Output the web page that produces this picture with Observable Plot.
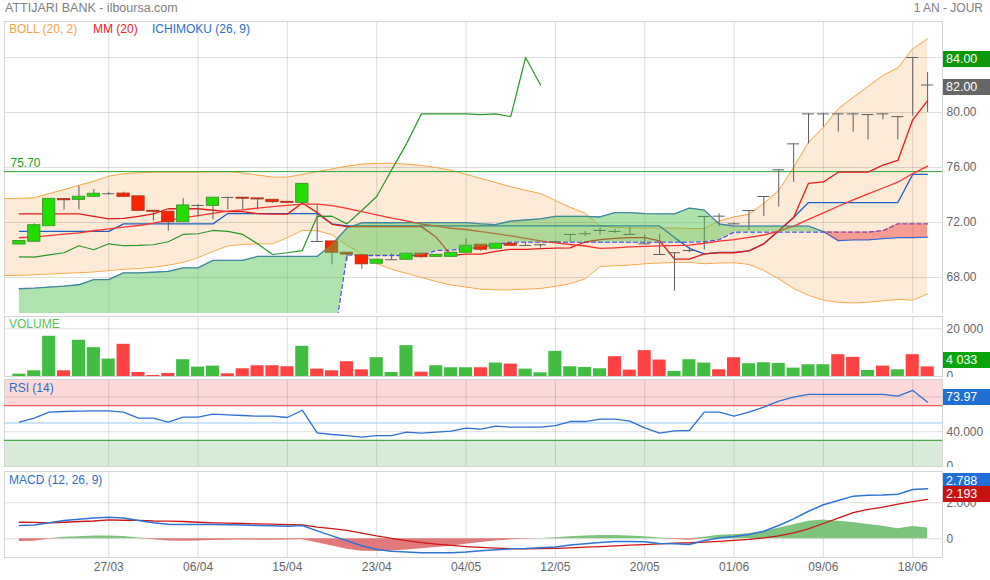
<!DOCTYPE html>
<html>
<head>
<meta charset="utf-8">
<script src="https://cdn.jsdelivr.net/npm/d3@7"></script>
<script src="https://cdn.jsdelivr.net/npm/@observablehq/plot@0.6"></script>
<style>
html,body{margin:0;padding:0;background:#fff;}
#wrap{position:relative;width:990px;height:580px;overflow:hidden;font-family:"Liberation Sans",Arial,sans-serif;background:#fff;}
#wrap svg{position:absolute;left:0;}
.t{position:absolute;font-size:12px;line-height:14px;white-space:nowrap;}
.box{position:absolute;left:943px;width:47px;height:16px;line-height:16px;font-size:12.5px;color:#fff;padding-left:3px;box-sizing:border-box;}
</style>
</head>
<body>
<div id="wrap"></div>
<script>
// ---------- tick labels ----------
const tickIndex = [6, 12, 18, 24, 30, 36, 42, 48, 54, 60];
const tickLabels = ["27/03", "06/04", "15/04", "23/04", "04/05", "12/05", "20/05", "01/06", "09/06", "18/06"];
const priceTicks = [68, 72, 76, 80, 84];
const refLevel = 75.70;

// ---------- OHLC ----------
const open = [70.40,70.60,71.73,73.70,73.65,73.87,74.09,74.10,73.90,72.85,
  72.78,72.02,73.24,73.21,73.82,73.80,73.75,73.65,73.50,73.43,
  70.62,70.62,69.80,69.62,69.00,69.29,69.29,69.73,69.50,69.50,
  69.80,70.38,70.09,70.45,70.33,70.38,70.60,71.13,71.18,71.42,
  71.35,71.13,70.45,69.67,69.80,69.96,72.44,72.46,71.90,72.87,
  73.89,75.83,77.72,79.90,79.90,79.90,79.90,79.85,79.90,79.70,
  84.00,82.00];
const high = [70.65,71.90,73.72,73.70,74.64,74.40,74.20,74.20,73.90,72.85,
  72.78,73.75,73.30,73.80,73.85,73.80,73.75,73.65,73.50,74.81,
  73.24,70.62,69.80,69.62,69.29,69.73,69.80,69.73,69.65,69.80,
  70.81,70.38,70.50,70.45,70.57,70.40,70.65,71.13,71.35,71.59,
  71.50,71.66,71.10,71.13,69.80,70.20,72.44,72.63,71.95,72.87,
  73.89,75.83,77.72,79.90,79.90,79.90,79.90,79.85,79.90,79.70,
  84.00,82.90];
const low = [70.40,70.60,71.73,72.90,72.92,73.87,74.00,73.87,72.85,72.10,
  71.37,72.02,72.40,72.20,72.92,72.92,72.92,73.40,73.40,73.43,
  70.62,68.92,69.20,68.60,69.00,69.29,69.29,69.40,69.45,69.50,
  69.80,69.90,70.09,70.31,70.33,70.13,70.55,70.57,70.98,71.05,
  71.20,71.13,70.40,69.67,67.00,69.80,70.00,71.70,71.85,71.42,
  72.44,73.12,74.93,77.72,78.93,78.57,78.57,78.00,79.47,78.00,
  79.73,80.00];
const close = [70.65,71.80,73.72,73.62,73.87,74.09,74.09,73.87,72.85,72.78,
  72.02,73.24,73.24,73.80,73.82,73.73,73.68,73.48,73.43,74.81,
  70.62,69.80,69.67,68.96,69.29,69.29,69.73,69.48,69.65,69.80,
  70.31,70.02,70.45,70.31,70.33,70.38,70.60,71.13,71.18,71.42,
  71.35,71.13,70.45,69.67,69.80,69.96,72.44,72.46,71.90,72.87,
  73.89,75.83,77.72,79.90,79.90,79.90,79.90,79.85,79.90,79.70,
  84.00,82.00];

// ---------- Bollinger (20, 2), first value one session before the first candle ----------
const bbStart = -1;
const bbUpper = [73.75,
  73.75,73.80,74.10,74.40,74.70,75.00,75.37,75.55,75.62,75.66,
  75.66,75.66,75.66,75.68,75.70,75.60,75.45,75.30,75.30,75.50,
  75.70,75.90,76.10,76.25,76.30,76.30,76.25,76.15,76.00,75.80,
  75.50,75.20,74.90,74.60,74.35,74.10,73.60,73.10,72.68,71.75,
  71.65,71.60,71.60,71.60,71.60,71.56,71.56,72.10,72.40,72.60,
  73.40,74.33,76.00,77.84,78.93,80.27,81.10,81.90,82.70,83.25,
  84.63,85.36];
const bbLower = [68.15,
  68.15,68.20,68.25,68.30,68.35,68.40,68.50,68.60,68.65,68.75,
  68.90,69.10,69.45,69.90,70.30,70.40,70.45,70.45,70.90,71.42,
  71.40,71.10,70.35,69.70,69.00,68.60,68.30,68.00,67.70,67.45,
  67.30,67.15,67.10,67.10,67.15,67.20,67.35,67.55,67.90,68.80,
  68.85,68.90,69.00,69.05,69.10,69.10,69.00,69.05,69.07,68.95,
  68.50,67.90,67.20,66.70,66.35,66.20,66.15,66.20,66.30,66.40,
  66.35,66.80];

// ---------- MM (20) ----------
const mm20 = [70.89,70.95,71.05,71.15,71.25,71.40,71.54,71.66,71.78,71.95,
  72.15,72.33,72.50,72.66,72.82,72.92,73.05,73.15,73.25,73.33,
  73.33,73.23,73.03,72.79,72.56,72.32,72.11,71.89,71.73,71.58,
  71.49,71.33,71.19,71.02,70.84,70.67,70.52,70.40,70.29,70.12,
  70.16,70.22,70.26,70.30,70.32,70.36,70.49,70.64,70.75,70.91,
  71.09,71.38,71.74,72.22,72.70,73.18,73.64,74.08,74.51,74.93,
  75.56,76.10];

// ---------- Ichimoku (26, 9) ----------
const tenkan = [72.62,72.62,72.62,72.62,72.62,72.44,72.27,72.30,72.45,72.62,
  73.00,73.00,73.00,72.89,72.79,72.79,72.64,72.61,72.61,73.42,
  72.72,71.87,71.70,71.70,71.70,71.70,71.70,71.70,70.92,69.61,
  69.70,69.70,69.90,70.05,70.05,70.10,70.13,70.16,70.58,70.75,
  70.84,70.90,70.90,70.67,69.33,69.33,69.72,69.80,69.80,69.94,
  70.45,71.40,72.36,74.85,74.95,75.66,75.66,75.66,76.17,76.51,
  79.47,80.86];
const kijun = [71.35,71.35,71.35,71.35,71.35,71.35,71.35,71.90,71.90,71.90,
  71.90,71.90,71.90,71.90,72.65,72.65,72.65,72.65,72.65,72.65,
  72.65,71.90,71.75,71.75,71.75,71.75,71.75,71.75,71.75,71.75,
  71.75,71.75,71.75,71.75,71.75,71.75,71.75,71.75,71.75,71.75,
  71.75,71.75,71.75,71.75,70.90,70.12,69.72,69.82,69.82,69.94,
  70.45,71.40,72.36,73.45,73.45,73.45,73.45,73.45,73.45,73.45,
  75.50,75.50];
const spanA = [67.18,67.22,67.30,67.37,67.47,67.85,67.85,68.34,68.34,68.38,
  68.44,68.70,68.70,69.24,69.24,69.24,69.53,69.53,69.53,69.53,
  69.53,70.40,71.60,71.98,71.98,71.98,71.99,71.99,71.99,71.99,
  71.99,71.90,71.85,72.10,72.18,72.26,72.45,72.45,72.45,72.40,
  72.72,72.72,72.65,72.63,72.63,73.04,72.90,71.89,71.73,71.73,
  71.73,71.73,71.73,71.73,71.34,70.68,70.73,70.73,70.83,70.90,
  70.90,70.93];
const spanB = [62.50,62.50,62.50,62.50,62.50,62.50,62.50,62.50,62.50,62.50,
  62.50,62.50,62.50,62.50,62.50,62.50,62.50,62.50,62.50,62.50,
  62.50,62.50,69.65,69.60,69.60,69.60,69.60,69.60,69.96,70.00,
  70.09,70.20,70.40,70.57,70.57,70.57,70.57,70.57,70.57,70.57,
  70.57,70.57,70.57,70.57,70.57,70.57,70.60,70.75,71.30,71.30,
  71.30,71.30,71.30,71.30,71.30,71.30,71.30,71.30,71.40,71.90,
  71.90,71.90];
const chikou = [69.50,69.48,69.65,69.80,70.31,70.02,70.45,70.31,70.33,70.38,
  70.60,71.13,71.18,71.42,71.35,71.13,70.45,69.67,69.80,69.96,
  72.44,72.46,71.90,72.87,73.89,75.83,77.72,79.90,79.90,79.90,
  79.90,79.85,79.90,79.70,84.00,82.00];

// ---------- Volume ----------
const volume = [985,2392,16884,2392,15196,12100,7316,13507,1688,422,
  1266,7035,3940,4362,1125,3236,4502,4502,4080,12663,
  3095,2392,6191,2814,7879,1688,12944,1829,4502,3658,
  3658,3658,5628,5206,3095,1548,10553,4080,3799,3236,
  8301,2673,10834,6894,2110,7035,5628,2814,7879,5347,
  5769,5487,3518,4925,4925,9146,8020,2533,4362,2814,
  9146,4033];
const volDir = "UUUDUUUDDDDUUUDDDDDUDDDDUUUDUUUDUDUUUUUUDDDDUUUDDUUUUUUDDUDUD".split("");

// ---------- RSI (14) ----------
const rsi = [50.9,55.5,62.4,63.2,63.6,64.0,64.0,62.4,55.5,55.5,
  50.9,56.7,56.7,60.1,59.4,58.6,57.8,57.8,56.3,64.7,
  38.7,36.8,35.6,33.7,35.6,35.6,39.4,38.3,39.4,40.6,
  44.0,42.9,46.3,45.2,45.2,45.2,47.1,51.7,51.7,54.4,
  54.4,52.1,44.5,38.3,41.0,41.4,62.4,62.4,57.8,62.4,
  68.2,75.1,79.7,82.8,82.8,82.8,82.8,82.8,82.8,80.8,
  87.4,73.97];
const rsiLevels = {over: 70, mid: 50, under: 30};
const rsiGrid = [40, 80];

// ---------- MACD (12, 26, 9) ----------
const macd = [0.74,0.77,0.89,1.02,1.09,1.15,1.20,1.15,1.02,0.89,
  0.81,0.79,0.79,0.79,0.78,0.77,0.74,0.72,0.70,0.74,
  0.44,0.16,-0.11,-0.39,-0.59,-0.69,-0.74,-0.78,-0.78,-0.78,
  -0.74,-0.67,-0.61,-0.56,-0.54,-0.50,-0.45,-0.35,-0.28,-0.20,
  -0.15,-0.15,-0.17,-0.26,-0.28,-0.32,-0.09,0.05,0.13,0.24,
  0.42,0.74,1.11,1.53,1.89,2.13,2.37,2.42,2.44,2.48,
  2.74,2.788];
const signal = [0.92,0.91,0.89,0.92,0.96,0.99,1.05,1.03,1.02,0.99,
  0.98,0.96,0.92,0.89,0.87,0.85,0.83,0.81,0.79,0.77,
  0.65,0.56,0.47,0.32,0.16,0.02,-0.10,-0.21,-0.30,-0.37,
  -0.43,-0.48,-0.52,-0.55,-0.56,-0.55,-0.53,-0.50,-0.46,-0.43,
  -0.39,-0.35,-0.32,-0.28,-0.24,-0.22,-0.18,-0.14,-0.09,-0.03,
  0.05,0.16,0.33,0.55,0.85,1.15,1.46,1.64,1.76,1.93,
  2.06,2.193];
const hist = [-0.15,-0.14,-0.02,0.08,0.12,0.15,0.15,0.13,0.05,-0.05,
  -0.12,-0.14,-0.12,-0.10,-0.08,-0.07,-0.08,-0.08,-0.07,-0.05,
  -0.22,-0.40,-0.58,-0.69,-0.71,-0.68,-0.62,-0.55,-0.48,-0.41,
  -0.30,-0.20,-0.12,-0.06,-0.02,0.02,0.06,0.12,0.16,0.18,
  0.18,0.16,0.12,0.04,-0.04,-0.08,0.09,0.19,0.22,0.28,
  0.40,0.58,0.78,0.98,1.04,0.98,0.90,0.80,0.70,0.56,
  0.68,0.60];
const macdTicks = [0, 2];

// ---------- tables ----------
const idx = d3.range(open.length);
const candles = idx.map(i => ({i, o: open[i], h: high[i], l: low[i], c: close[i]}));
const ups = candles.filter(d => d.c > d.o);
const downs = candles.filter(d => d.c < d.o);
const dojis = candles.filter(d => d.c === d.o);
const ind = idx.map(i => ({i, mm: mm20[i], tk: tenkan[i], kj: kijun[i], a: spanA[i], b: spanB[i]}));
const bands = bbUpper.map((u, k) => ({i: k + bbStart, u, l: bbLower[k]}));
const chik = chikou.map((v, i) => ({i, v}));
const vol = idx.map(i => ({i, v: volume[i], up: volDir[i] === "U"}));
const rsiRows = idx.map(i => ({i, v: rsi[i]}));
const macdRows = idx.map(i => ({i, m: macd[i], s: signal[i], h: hist[i]}));

const xDomain = [-1, 62];
const font = "Liberation Sans, Arial, sans-serif";
const baseStyle = {fontFamily: font, fontSize: "12px", color: "#666", background: "transparent", overflow: "hidden"};
const gridStroke = {stroke: "#000", strokeOpacity: 0.13};
const M = {width: 990, marginLeft: 4, marginRight: 48};
const fmtSpace = d => d3.format(",")(d).replace(/,/g, " ");

const wrap = document.getElementById("wrap");
function place(svg, top) { svg.style.top = top + "px"; wrap.appendChild(svg); return svg; }
function label(str, left, top, color, size, right) {
  const el = document.createElement("div");
  el.className = "t";
  el.textContent = str;
  el.style.top = top + "px";
  if (right) el.style.right = left + "px"; else el.style.left = left + "px";
  el.style.color = color;
  if (size) el.style.fontSize = size + "px";
  wrap.appendChild(el);
}
function box(plot, top, value, str, bg, dy) {
  const y = plot.scale("y").apply(value);
  const el = document.createElement("div");
  el.className = "box";
  el.textContent = str;
  el.style.background = bg;
  el.style.top = (top + y - 8 + dy) + "px";
  wrap.appendChild(el);
}

// ---------- main price panel ----------
const mainTop = 21;
const main = Plot.plot({
  ...M, height: 292, marginTop: 0, marginBottom: 0,
  style: baseStyle,
  x: {domain: xDomain, axis: null},
  y: {domain: [65.38, 86.62], axis: "right", ticks: priceTicks, tickFormat: d3.format(".2f"), tickSize: 0, tickPadding: 4, label: null},
  marks: [
    Plot.areaY(bands, {x: "i", y1: "l", y2: "u", fill: "#fdebd7"}),
    Plot.ruleY(priceTicks, gridStroke),
    Plot.ruleX(tickIndex, gridStroke),
    Plot.frame({stroke: "#d4d4d4"}),
    Plot.lineY(bands, {x: "i", y: "u", stroke: "#f7a847", strokeWidth: 1}),
    Plot.lineY(bands, {x: "i", y: "l", stroke: "#f7a847", strokeWidth: 1}),
    Plot.ruleY([refLevel], {stroke: "#2fa52f", strokeWidth: 1}),
    Plot.lineY(ind, {x: "i", y: "a", stroke: "#3a62d8", strokeWidth: 1.3, clip: true}),
    Plot.lineY(ind, {x: "i", y: "b", stroke: "#4a4cf0", strokeWidth: 1.3, strokeDasharray: "4,3", clip: true}),
    Plot.lineY(ind, {x: "i", y: "kj", stroke: "#1e62c4", strokeWidth: 1.3}),
    Plot.lineY(ind, {x: "i", y: "tk", stroke: "#e31b1b", strokeWidth: 1.3}),
    Plot.lineY(ind, {x: "i", y: "mm", stroke: "#ff3333", strokeWidth: 1.3}),
    Plot.lineY(chik, {x: "i", y: "v", stroke: "#2a962a", strokeWidth: 1.2}),
    Plot.ruleX(candles, {x: "i", y1: "l", y2: "h", stroke: "#5e5e5e", strokeWidth: 1}),
    Plot.rect(ups, {x1: d => d.i - 0.41, x2: d => d.i + 0.41, y1: "o", y2: "c", fill: "#22dd00", stroke: "#3c9c2c", strokeWidth: 1}),
    Plot.rect(downs, {x1: d => d.i - 0.41, x2: d => d.i + 0.41, y1: "o", y2: "c", fill: "#ff2200", stroke: "#b5361e", strokeWidth: 1}),
    Plot.ruleY(dojis, {y: "c", x1: d => d.i - 0.4, x2: d => d.i + 0.4, stroke: "#5e5e5e", strokeWidth: 1}),
    Plot.areaY(ind, {x: "i", y1: "b", y2: d => Math.max(d.a, d.b), fill: "#4cc24c", fillOpacity: 0.45, clip: true}),
    Plot.areaY(ind, {x: "i", y1: "a", y2: d => Math.max(d.a, d.b), fill: "#f03c3c", fillOpacity: 0.45, clip: true}),
    Plot.text([refLevel], {x: xDomain[0], y: d => d, text: d => d3.format(".2f")(d), dx: 6, dy: -8, textAnchor: "start", fill: "#22a022", fontSize: 12})
  ]
});
place(main, mainTop);

// ---------- volume panel ----------
const volTop = 316;
const volPlot = Plot.plot({
  ...M, height: 61, marginTop: 0, marginBottom: 1,
  style: baseStyle,
  x: {domain: xDomain, axis: null},
  y: {domain: [0, 25157], axis: "right", ticks: [0, 20000], tickFormat: fmtSpace, tickSize: 0, tickPadding: 4, label: null},
  marks: [
    Plot.ruleY([20000], gridStroke),
    Plot.ruleX(tickIndex, gridStroke),
    Plot.frame({stroke: "#d4d4d4"}),
    Plot.rect(vol.filter(d => d.up), {x1: d => d.i - 0.44, x2: d => d.i + 0.44, y1: 0, y2: "v", fill: "#41bd41"}),
    Plot.rect(vol.filter(d => !d.up), {x1: d => d.i - 0.44, x2: d => d.i + 0.44, y1: 0, y2: "v", fill: "#ff4242"})
  ]
});
place(volPlot, volTop);

// ---------- RSI panel ----------
const rsiTop = 377;
const rsiPlot = Plot.plot({
  ...M, height: 90, marginTop: 2, marginBottom: 1,
  style: baseStyle,
  x: {domain: xDomain, axis: null},
  y: {domain: [0, 100], axis: "right", ticks: [0, 40, 80], tickFormat: d => d === 0 ? "0" : d3.format(".3f")(d), tickSize: 0, tickPadding: 4, label: null},
  marks: [
    Plot.rect([rsiLevels], {y1: d => d.over, y2: 100, fill: "#fdd9d9"}),
    Plot.rect([rsiLevels], {y1: 0, y2: d => d.under, fill: "#d9ecd9"}),
    Plot.ruleY(rsiGrid, gridStroke),
    Plot.ruleX(tickIndex, gridStroke),
    Plot.frame({stroke: "#d4d4d4"}),
    Plot.ruleY([rsiLevels.over], {stroke: "#f25c5c", strokeWidth: 1.2}),
    Plot.ruleY([rsiLevels.mid], {stroke: "#99ccff", strokeWidth: 1.2}),
    Plot.ruleY([rsiLevels.under], {stroke: "#4aa84a", strokeWidth: 1.2}),
    Plot.lineY(rsiRows, {x: "i", y: "v", stroke: "#2f6fd0", strokeWidth: 1.3})
  ]
});
place(rsiPlot, rsiTop);

// ---------- MACD panel ----------
const macdTop = 467;
const macdPlot = Plot.plot({
  ...M, height: 113, marginTop: 4, marginBottom: 23,
  style: baseStyle,
  x: {domain: xDomain, ticks: tickIndex, tickFormat: d => tickLabels[tickIndex.indexOf(d)], tickSize: 0, tickPadding: 5, label: null},
  y: {domain: [-1.04, 3.74], axis: "right", ticks: macdTicks, tickFormat: d => d === 0 ? "0" : d3.format(".3f")(d), tickSize: 0, tickPadding: 4, label: null},
  marks: [
    Plot.ruleY(macdTicks, gridStroke),
    Plot.ruleX(tickIndex, gridStroke),
    Plot.frame({stroke: "#d4d4d4"}),
    Plot.areaY(macdRows, {x: "i", y1: 0, y2: d => Math.max(0, d.h), fill: "#7dc27d"}),
    Plot.areaY(macdRows, {x: "i", y1: 0, y2: d => Math.min(0, d.h), fill: "#e07a7a"}),
    Plot.lineY(macdRows, {x: "i", y: "s", stroke: "#d01515", strokeWidth: 1.3}),
    Plot.lineY(macdRows, {x: "i", y: "m", stroke: "#2f74d4", strokeWidth: 1.5})
  ]
});
place(macdPlot, macdTop);

// ---------- texts ----------
label("ATTIJARI BANK - ilboursa.com", 5, 1, "#808080", 12.5);
label("1 AN - JOUR", 7, 1, "#808080", 12, true);
label("BOLL (20, 2)", 9, 22, "#f5a443");
label("MM (20)", 93, 22, "#ee1c1c");
label("ICHIMOKU (26, 9)", 152, 22, "#2a6fc9");
label("VOLUME", 9, 317, "#55c455");
label("RSI (14)", 9, 381, "#2a6fc9");
label("MACD (12, 26, 9)", 9, 473, "#2a6fc9");

// ---------- value boxes ----------
box(main, mainTop, d3.max(high), d3.format(".2f")(d3.max(high)), "#0a990a", 2);
box(main, mainTop, close[close.length - 1], d3.format(".2f")(close[close.length - 1]), "#666666", 2.5);
box(volPlot, volTop, volume[volume.length - 1], fmtSpace(volume[volume.length - 1]), "#0aa50a", -6);
box(rsiPlot, rsiTop, rsi[rsi.length - 1], d3.format(".2f")(rsi[rsi.length - 1]), "#1f6fd2", -5);
box(macdPlot, macdTop, macd[macd.length - 1], d3.format(".3f")(macd[macd.length - 1]), "#1f6fd6", -7);
box(macdPlot, macdTop, signal[signal.length - 1], d3.format(".3f")(signal[signal.length - 1]), "#c81212", -5);
</script>
</body>
</html>
